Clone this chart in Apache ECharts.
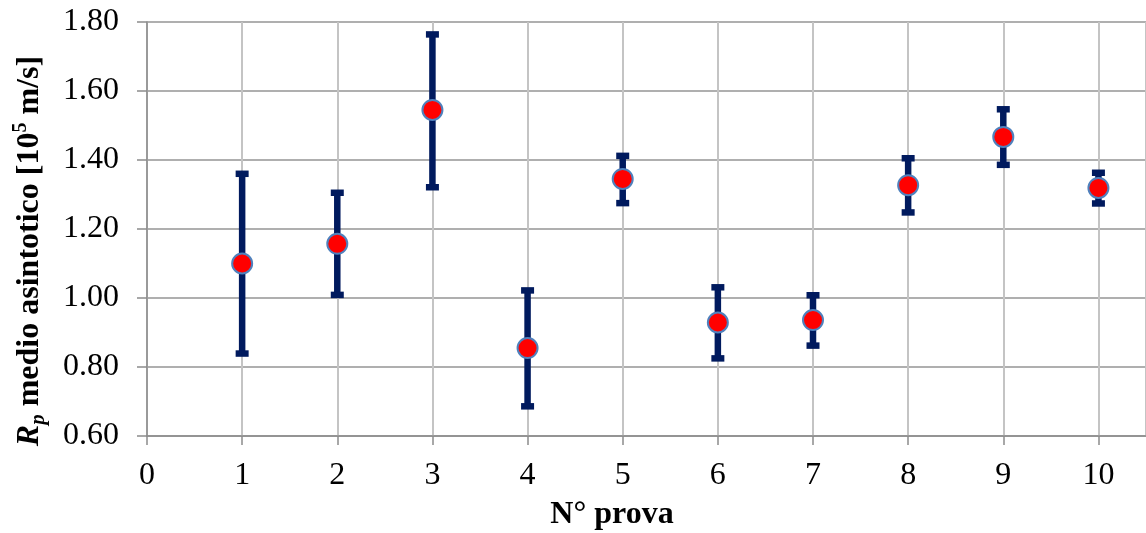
<!DOCTYPE html>
<html>
<head>
<meta charset="utf-8">
<script src="https://cdn.jsdelivr.net/npm/echarts@6/dist/echarts.min.js"></script>
<style>
  html, body { margin: 0; padding: 0; background: #fff; }
  #chart { width: 1146px; height: 533px; }
</style>
</head>
<body>
<div id="chart"></div>
<script>
// Trial number and mean asymptotic Rp (10^5 m/s) with its error range
var trials = [1, 2, 3, 4, 5, 6, 7, 8, 9, 10];
var means  = [1.10, 1.157, 1.545, 0.855, 1.345, 0.929, 0.936, 1.327, 1.467, 1.319];
var lowers = [0.839, 1.009, 1.321, 0.686, 1.275, 0.825, 0.862, 1.248, 1.386, 1.274];
var uppers = [1.360, 1.305, 1.764, 1.022, 1.412, 1.031, 1.008, 1.405, 1.547, 1.363];

var FONT = "'Liberation Serif', 'Times New Roman', serif";

var chart = echarts.init(document.getElementById('chart'), null, { renderer: 'canvas' });

var pointData = trials.map(function (t, i) { return [t, means[i]]; });
var barData = trials.map(function (t, i) { return [t, lowers[i], uppers[i]]; });

function renderErrorBar(params, api) {
  var x = api.value(0);
  var lo = api.coord([x, api.value(1)]);
  var hi = api.coord([x, api.value(2)]);
  var barW = 6.5, capW = 13, capH = 6.5;
  var style = { fill: '#001a5e' };
  return {
    type: 'group',
    children: [
      { type: 'rect', shape: { x: lo[0] - barW / 2, y: hi[1], width: barW, height: lo[1] - hi[1] }, style: style },
      { type: 'rect', shape: { x: hi[0] - capW / 2, y: hi[1] - capH / 2, width: capW, height: capH }, style: style },
      { type: 'rect', shape: { x: lo[0] - capW / 2, y: lo[1] - capH / 2, width: capW, height: capH }, style: style }
    ]
  };
}

chart.setOption({
  animation: false,
  backgroundColor: '#ffffff',
  grid: { left: 147, top: 22, right: -2, bottom: 97, containLabel: false },
  xAxis: {
    type: 'value',
    min: 0,
    max: 10.5,
    interval: 1,
    axisLine: { show: true, onZero: false, lineStyle: { color: '#8c8c8c', width: 1.5 } },
    axisTick: { show: true, length: 9, lineStyle: { color: '#8c8c8c', width: 1.5 } },
    axisLabel: {
      margin: 24,
      showMaxLabel: false,
      color: '#000',
      fontFamily: FONT,
      fontSize: 32,
      formatter: function (v) { return Number.isInteger(v) ? String(v) : ''; }
    },
    splitLine: { show: true, lineStyle: { color: '#c4c4c4', width: 2 } }
  },
  yAxis: {
    type: 'value',
    min: 0.6,
    max: 1.8,
    interval: 0.2,
    axisLine: { show: true, lineStyle: { color: '#8c8c8c', width: 1.5 } },
    axisTick: { show: true, length: 10, lineStyle: { color: '#8c8c8c', width: 1.5 } },
    axisLabel: {
      margin: 28,
      color: '#000',
      fontFamily: FONT,
      fontSize: 32,
      formatter: function (v) { return v.toFixed(2); }
    },
    splitLine: { show: true, lineStyle: { color: '#949494', width: 1.5 } }
  },
  series: [
    {
      type: 'custom',
      renderItem: renderErrorBar,
      data: barData,
      encode: { x: 0, y: [1, 2] },
      z: 2
    },
    {
      type: 'scatter',
      data: pointData,
      symbol: 'circle',
      symbolSize: 20,
      itemStyle: { color: '#ff0000', opacity: 1, borderColor: '#4f81bd', borderWidth: 2 },
      z: 3
    }
  ],
  graphic: [
    {
      type: 'text',
      x: 612,
      y: 515,
      style: {
        text: 'N° prova',
        fill: '#000',
        font: 'bold 32px ' + FONT,
        textAlign: 'center',
        textVerticalAlign: 'middle'
      }
    },
    {
      type: 'text',
      x: 30,
      y: 251,
      rotation: Math.PI / 2,
      style: {
        text: '{r|R}{sub|p}{t| medio asintotico [10}{sup|5}{t| m/s]}',
        textAlign: 'center',
        textVerticalAlign: 'middle',
        rich: {
          r: { font: 'italic bold 32px ' + FONT, fill: '#000', lineHeight: 38, verticalAlign: 'middle' },
          sub: { font: 'italic bold 21px ' + FONT, fill: '#000', lineHeight: 22, verticalAlign: 'bottom' },
          t: { font: 'bold 32px ' + FONT, fill: '#000', lineHeight: 38, verticalAlign: 'middle' },
          sup: { font: 'bold 20px ' + FONT, fill: '#000', lineHeight: 22, verticalAlign: 'top' }
        }
      }
    }
  ]
});
</script>
</body>
</html>
